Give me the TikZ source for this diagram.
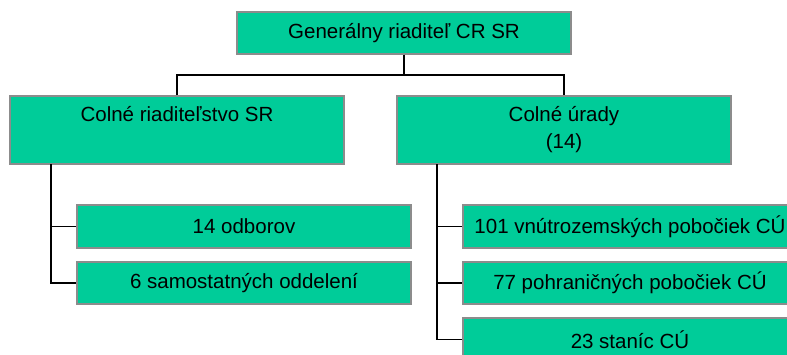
\documentclass[tikz,border=0pt]{standalone}
\usepackage{fontspec}
\setmainfont{Liberation Sans}
\definecolor{boxfill}{RGB}{0,204,153}
\definecolor{boxline}{RGB}{140,140,140}
\begin{document}
\begin{tikzpicture}[x=1pt,y=-1pt,
  orgbox/.style={rectangle, draw=boxline, fill=boxfill, line width=1.3pt,
    minimum width=334pt, inner sep=0pt, align=center,
    font=\fontsize{20.5}{27}\selectfont},
  conn/.style={draw=black, line width=1.3pt}]
\useasboundingbox (0,0) rectangle (787,354);
\clip (0,0) rectangle (787,354);
\node[orgbox, minimum height=42pt] (top) at (404,33) {Generálny riaditeľ CR SR};
\node[orgbox, minimum height=68pt] (crsr) at (177,130) {Colné riaditeľstvo SR\\\phantom{(14)}};
\node[orgbox, minimum height=68pt] (cu) at (564,130) {Colné úrady\\(14)};
\node[orgbox, minimum height=43pt] (odb) at (244,226.5) {14 odborov};
\node[orgbox, minimum height=42pt] (odd) at (244,283) {6 samostatných oddelení};
\node[orgbox, minimum height=43pt] (vnu) at (630,226.5) {101 vnútrozemských pobočiek CÚ};
\node[orgbox, minimum height=42pt] (poh) at (630,283) {77 pohraničných pobočiek CÚ};
\node[orgbox, minimum height=43pt] (sta) at (630,339.5) {23 staníc CÚ};
\coordinate (hub) at (404,75);
\coordinate (lspine) at (51,164);
\coordinate (rspine) at (437,164);
\draw[conn] (top.south) -- (hub);
\draw[conn] (hub) -| (crsr.north);
\draw[conn] (hub) -| (cu.north);
\draw[conn] (lspine) |- (odb.west);
\draw[conn] (lspine) |- (odd.west);
\draw[conn] (rspine) |- (vnu.west);
\draw[conn] (rspine) |- (poh.west);
\draw[conn] (rspine) |- (sta.west);
\end{tikzpicture}
\end{document}
